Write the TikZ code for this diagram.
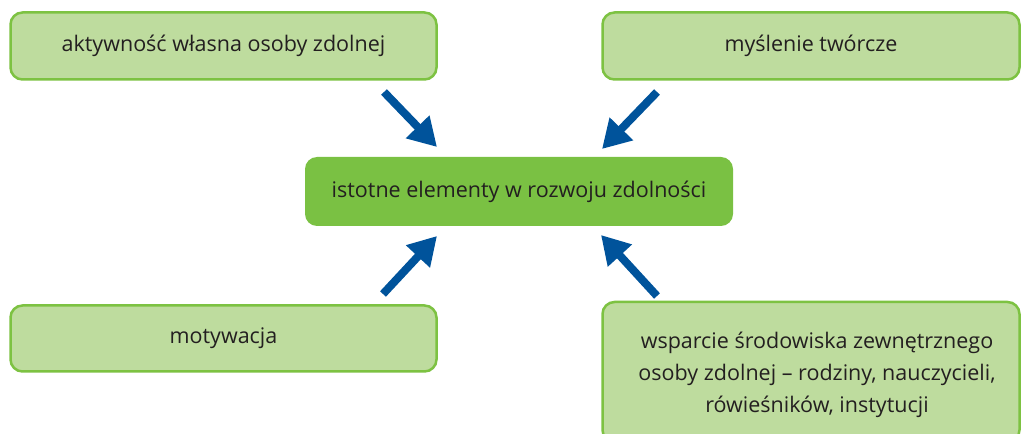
\documentclass[tikz,border=0pt]{standalone}
\usepackage{fontspec}
\setmainfont{Open Sans}
\usetikzlibrary{arrows.meta,positioning}

\definecolor{boxfill}{HTML}{BEDC9E}
\definecolor{boxline}{HTML}{7DC242}
\definecolor{midfill}{HTML}{7AC143}
\definecolor{arrowblue}{HTML}{00539B}
\definecolor{txt}{HTML}{231F20}

\begin{document}
\begin{tikzpicture}
	[x=1pt,y=1pt,
	every node/.style={rounded corners=12pt,text=txt,align=center,
		font=\fontsize{21.5}{32}\selectfont},
	sidebox/.style={draw=boxline,line width=2.5pt,fill=boxfill},
	midbox/.style={fill=midfill},
	bluearrow/.style={draw=arrowblue,line width=8pt,
		-{Triangle[length=28pt,width=31pt]}}]
	\useasboundingbox (0,0) rectangle (1021,434);
	\clip (0,0) rectangle (1021,434);
	
	\node[sidebox,minimum width=426pt,minimum height=67pt] (own) at (223.5,388) {aktywność własna osoby zdolnej};
	\node[sidebox,minimum width=417pt,minimum height=67pt] (creative) at (811,388) {myślenie twórcze};
	\node[midbox,minimum width=428pt,minimum height=69pt] (core) at (519,242.5) {istotne elementy w rozwoju zdolności};
	\node[sidebox,minimum width=426pt,minimum height=66pt] (motiv) at (223.5,95.5) {motywacja};
	\node[sidebox,minimum width=417pt,minimum height=140pt] (support) at (811,62) {};
	\node (supporttext) at (817,59) {wsparcie środowiska zewnętrznego\\osoby zdolnej -- rodziny, nauczycieli,\\rówieśników, instytucji};
	
	\coordinate (a1) at (384,342);
	\coordinate (b1) at (437,287);
	\coordinate (a2) at (657,342);
	\coordinate (b2) at (602,285);
	\coordinate (a3) at (383,140);
	\coordinate (b3) at (437,198);
	\coordinate (a4) at (657,138);
	\coordinate (b4) at (601,199);
	
	\foreach \startNode/\endNode in {a1/b1,a2/b2,a3/b3,a4/b4}
	{
		\draw[bluearrow] (\startNode) -- (\endNode);
	}
\end{tikzpicture}
\end{document}
